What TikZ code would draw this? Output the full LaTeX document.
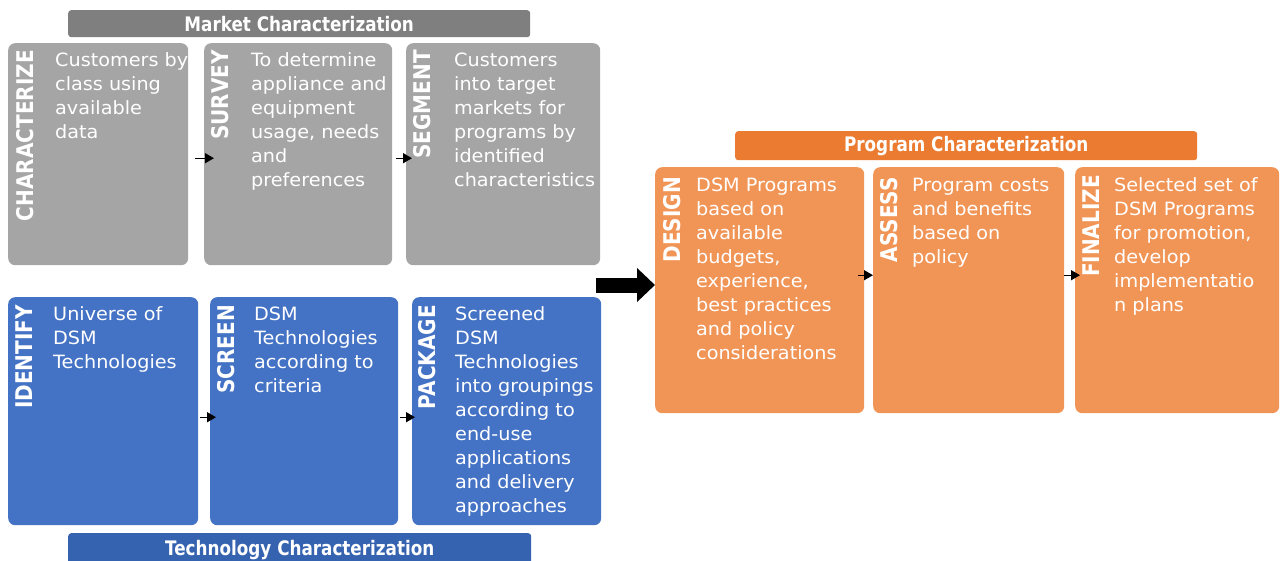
\documentclass[tikz,border=0pt]{standalone}
\usepackage{fontspec}
\setmainfont{DejaVu Sans}
\newfontfamily\bodyfont[FakeStretch=1.05]{DejaVu Sans}
\newfontfamily\titlefont[FakeStretch=0.84]{DejaVu Sans}
\newfontfamily\lblfont[FakeStretch=0.87]{DejaVu Sans}
\usetikzlibrary{calc,arrows.meta}
\definecolor{gbox}{HTML}{A5A5A5}
\definecolor{gbar}{HTML}{7F7F7F}
\definecolor{bbox}{HTML}{4472C4}
\definecolor{bbar}{HTML}{3563B0}
\definecolor{obox}{HTML}{F19557}
\definecolor{obar}{HTML}{EA7B30}
\begin{document}
\begin{tikzpicture}[x=1pt,y=-1pt,
  card/.style={draw=none, rounded corners=7pt, anchor=north west, inner sep=0pt},
  bar/.style={draw=none, rounded corners=3pt, anchor=north west, inner sep=0pt, text=white, font=\titlefont\bfseries\fontsize{20}{24}\selectfont},
  lbl/.style={anchor=north east, rotate=90, inner sep=0pt, text=white, font=\lblfont\bfseries\fontsize{23}{24}\selectfont},
  body/.style={anchor=north west, inner sep=0pt, align=left, text=white, font=\bodyfont\fontsize{18.3}{24}\selectfont},
  smallarr/.style={line width=1.4pt, -{Triangle[length=9pt,width=10pt]}},
  bigarr/.style={line width=15pt, -{Triangle[length=18pt,width=33pt]}}
]
\useasboundingbox (0,0) rectangle (1282,560);

% ---------- Market characterization ----------
\node[bar, fill=gbar, minimum width=462pt, minimum height=27pt] (mbar) at (68,10) {Market Characterization};
\node[card, fill=gbox, minimum width=180pt, minimum height=222pt] (g1) at (8,43) {};
\node[card, fill=gbox, minimum width=188pt, minimum height=222pt] (g2) at (204,43) {};
\node[card, fill=gbox, minimum width=194pt, minimum height=222pt] (g3) at (406,43) {};
\node[lbl] (g1l) at ($(g1.north west)+(8,7)$) {CHARACTERIZE};
\node[lbl] (g2l) at ($(g2.north west)+(7,7)$) {SURVEY};
\node[lbl] (g3l) at ($(g3.north west)+(7,7)$) {SEGMENT};
\node[body] (g1t) at ($(g1.north west)+(47,6.2)$) {\strut Customers by\\class using\\available\\data};
\node[body] (g2t) at ($(g2.north west)+(47,6.2)$) {\strut To determine\\appliance and\\equipment\\usage, needs\\and\\preferences};
\node[body] (g3t) at ($(g3.north west)+(48,6.2)$) {\strut Customers\\into target\\markets for\\programs by\\identified\\characteristics};
\draw[smallarr] ($(g1.east)+(7,4)$) -- ($(g2.west)+(10,4)$);
\draw[smallarr] ($(g2.east)+(4,4)$) -- ($(g3.west)+(6,4)$);

% ---------- Technology characterization ----------
\node[card, fill=bbox, minimum width=190pt, minimum height=228pt] (b1) at (8,297) {};
\node[card, fill=bbox, minimum width=188pt, minimum height=228pt] (b2) at (210,297) {};
\node[card, fill=bbox, minimum width=189pt, minimum height=228pt] (b3) at (412,297) {};
\node[lbl] (b1l) at ($(b1.north west)+(8,8)$) {IDENTIFY};
\node[lbl] (b2l) at ($(b2.north west)+(7,8)$) {SCREEN};
\node[lbl] (b3l) at ($(b3.north west)+(6,8)$) {PACKAGE};
\node[body] (b1t) at ($(b1.north west)+(45,6.2)$) {\strut Universe of\\DSM\\Technologies};
\node[body] (b2t) at ($(b2.north west)+(44,6.2)$) {\strut DSM\\Technologies\\according to\\criteria};
\node[body] (b3t) at ($(b3.north west)+(43,6.2)$) {\strut Screened\\DSM\\Technologies\\into groupings\\according to\\end-use\\applications\\and delivery\\approaches};
\draw[smallarr] ($(b1.east)+(2,6)$) -- ($(b2.west)+(6,6)$);
\draw[smallarr] ($(b2.east)+(2,6)$) -- ($(b3.west)+(3,6)$);
\node[bar, fill=bbar, minimum width=463pt, minimum height=34pt] (tbar) at (68,533) {Technology Characterization};

% ---------- Program characterization ----------
\node[bar, fill=obar, minimum width=462pt, minimum height=29pt] (pbar) at (735,131) {Program Characterization};
\node[card, fill=obox, minimum width=209pt, minimum height=246pt] (o1) at (655,167) {};
\node[card, fill=obox, minimum width=191pt, minimum height=246pt] (o2) at (873,167) {};
\node[card, fill=obox, minimum width=204pt, minimum height=246pt] (o3) at (1075,167) {};
\node[lbl] (o1l) at ($(o1.north west)+(8,10)$) {DESIGN};
\node[lbl] (o2l) at ($(o2.north west)+(7,10)$) {ASSESS};
\node[lbl] (o3l) at ($(o3.north west)+(8,8)$) {FINALIZE};
\node[body] (o1t) at ($(o1.north west)+(41,7)$) {\strut DSM Programs\\based on\\available\\budgets,\\experience,\\best practices\\and policy\\considerations};
\node[body] (o2t) at ($(o2.north west)+(39,7)$) {\strut Program costs\\and benefits\\based on\\policy};
\node[body] (o3t) at ($(o3.north west)+(39,7)$) {\strut Selected set of\\DSM Programs\\for promotion,\\develop\\implementatio\\n plans};
\draw[smallarr] ($(o1.east)+(-6,-15)$) -- ($(o2.west)+(0,-15)$);
\draw[smallarr] ($(o2.east)+(0,-15)$) -- ($(o3.west)+(5,-15)$);

% ---------- big arrow ----------
\coordinate (bigA) at (596,285);
\draw[bigarr] (bigA) -- (bigA -| o1.west);
\end{tikzpicture}
\end{document}
